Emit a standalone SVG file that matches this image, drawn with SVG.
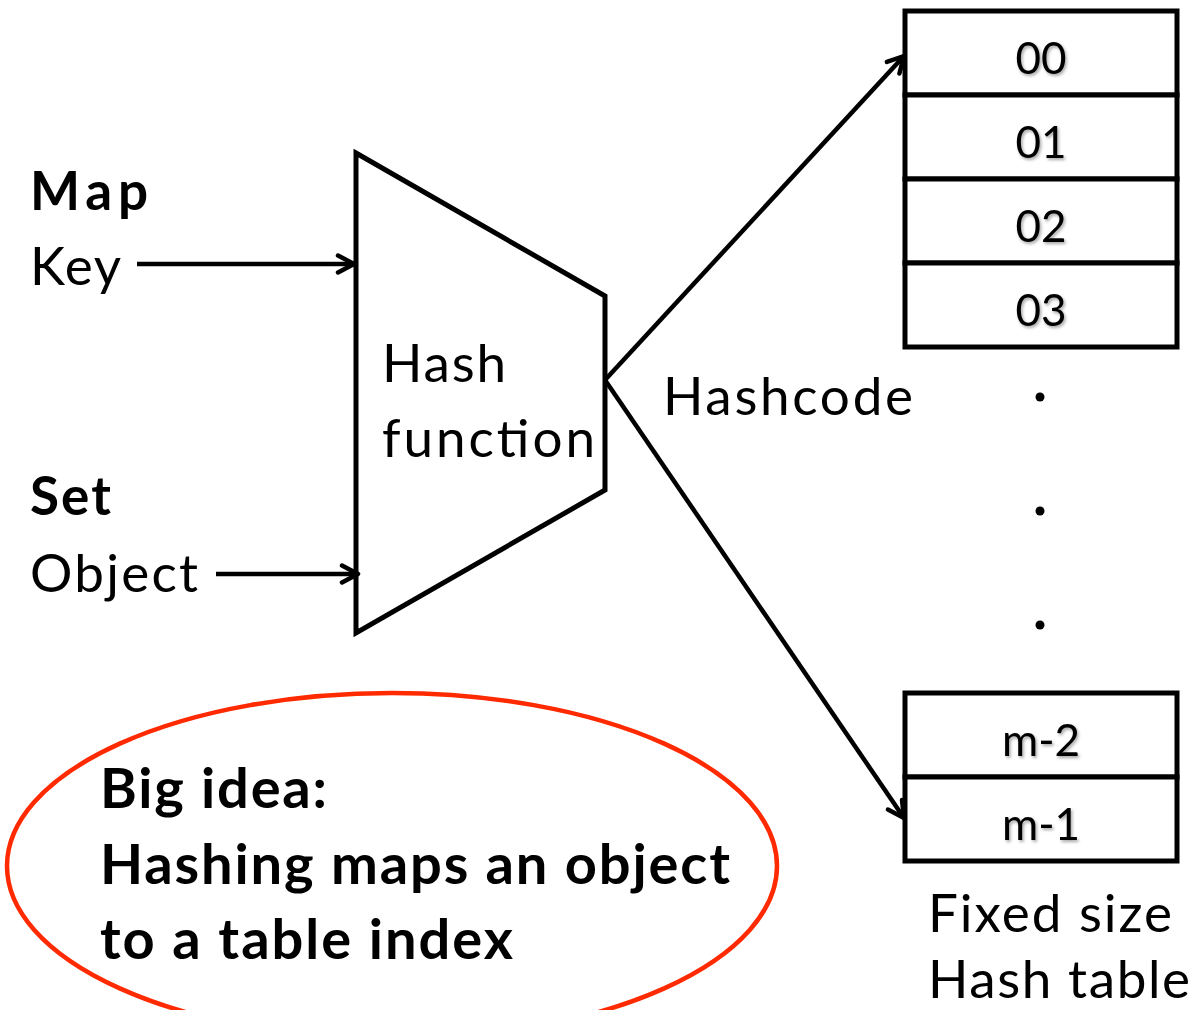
<svg xmlns="http://www.w3.org/2000/svg" width="1203" height="1010" viewBox="0 0 1203 1010">
  <style>
    text { font-family: "Lato", "Open Sans", "Liberation Sans", sans-serif; fill: #000; }
    .lbl { font-size: 53px; }
    .bold { font-weight: bold; }
    .idea { font-size: 56px; font-weight: bold; }
    .cell { font-size: 44px; text-anchor: middle; filter: url(#shadow); }
    .box { fill: #fff; stroke: #000; stroke-width: 5; }
    .wire { fill: none; stroke: #000; stroke-width: 4.5; }
  </style>
  <defs>
    <marker id="arrow" viewBox="0 0 24 24" refX="21" refY="12" markerWidth="24" markerHeight="24" markerUnits="userSpaceOnUse" orient="auto">
      <path d="M5,3.5 L21,12 L5,20.5" fill="none" stroke="#000" stroke-width="4.5" stroke-linecap="round" stroke-linejoin="round"/>
    </marker>
    <filter id="shadow" x="-20%" y="-20%" width="140%" height="140%">
      <feDropShadow dx="1.5" dy="2" stdDeviation="1.5" flood-color="#000" flood-opacity="0.35"/>
    </filter>
  </defs>

  <rect width="1203" height="1010" fill="#fff"/>

  <!-- inputs -->
  <g id="map-key">
    <text x="30" y="210" class="lbl bold" textLength="118">Map</text>
    <text x="30" y="285" class="lbl" textLength="91">Key</text>
  </g>
  <g id="set-object">
    <text x="30" y="515" class="lbl bold" textLength="81">Set</text>
    <text x="30" y="592" class="lbl" textLength="168">Object</text>
  </g>

  <!-- hash function block -->
  <g id="hash-function">
    <polygon class="box" points="356,153 605,296 605,490 356,633"/>
    <text x="382" y="382" class="lbl" textLength="124">Hash</text>
    <text x="382" y="457" class="lbl" textLength="213">function</text>
  </g>

  <g id="hashcode-label">
    <text x="663" y="415" class="lbl" textLength="250">Hashcode</text>
  </g>

  <!-- hash table, top part -->
  <g id="table-top">
    <rect class="box" x="905" y="11" width="272" height="84"/>
    <rect class="box" x="905" y="95" width="272" height="84"/>
    <rect class="box" x="905" y="179" width="272" height="84"/>
    <rect class="box" x="905" y="263" width="272" height="84"/>
    <text x="1041" y="74" class="cell">00</text>
    <text x="1041" y="158" class="cell">01</text>
    <text x="1041" y="242" class="cell">02</text>
    <text x="1041" y="326" class="cell">03</text>
  </g>

  <g id="ellipsis">
    <circle cx="1040" cy="397" r="4.5" fill="#000"/>
    <circle cx="1040" cy="511" r="4.5" fill="#000"/>
    <circle cx="1040" cy="625" r="4.5" fill="#000"/>
  </g>

  <!-- hash table, bottom part -->
  <g id="table-bottom">
    <rect class="box" x="905" y="693" width="272" height="84"/>
    <rect class="box" x="905" y="777" width="272" height="84"/>
    <text x="1041" y="756" class="cell">m-2</text>
    <text x="1041" y="840" class="cell">m-1</text>
  </g>

  <g id="table-caption">
    <text x="928" y="932" class="lbl" textLength="244">Fixed size</text>
    <text x="928" y="998" class="lbl" font-size="51" textLength="262">Hash table</text>
  </g>

  <!-- connectors -->
  <g id="connectors">
    <line class="wire" x1="137" y1="264" x2="354" y2="264" marker-end="url(#arrow)"/>
    <line class="wire" x1="216" y1="574" x2="358" y2="574" marker-end="url(#arrow)"/>
    <line class="wire" x1="605" y1="380" x2="904" y2="56" marker-end="url(#arrow)"/>
    <line class="wire" x1="605" y1="380" x2="904" y2="818" marker-end="url(#arrow)"/>
  </g>

  <!-- summary callout -->
  <g id="big-idea">
    <ellipse cx="392" cy="866" rx="385" ry="173" fill="none" stroke="#ff2a00" stroke-width="4.5"/>
    <text x="100" y="808" class="idea" textLength="227">Big idea:</text>
    <text x="100" y="884" class="idea" textLength="630">Hashing maps an object</text>
    <text x="100" y="959" class="idea" textLength="413">to a table index</text>
  </g>
</svg>
